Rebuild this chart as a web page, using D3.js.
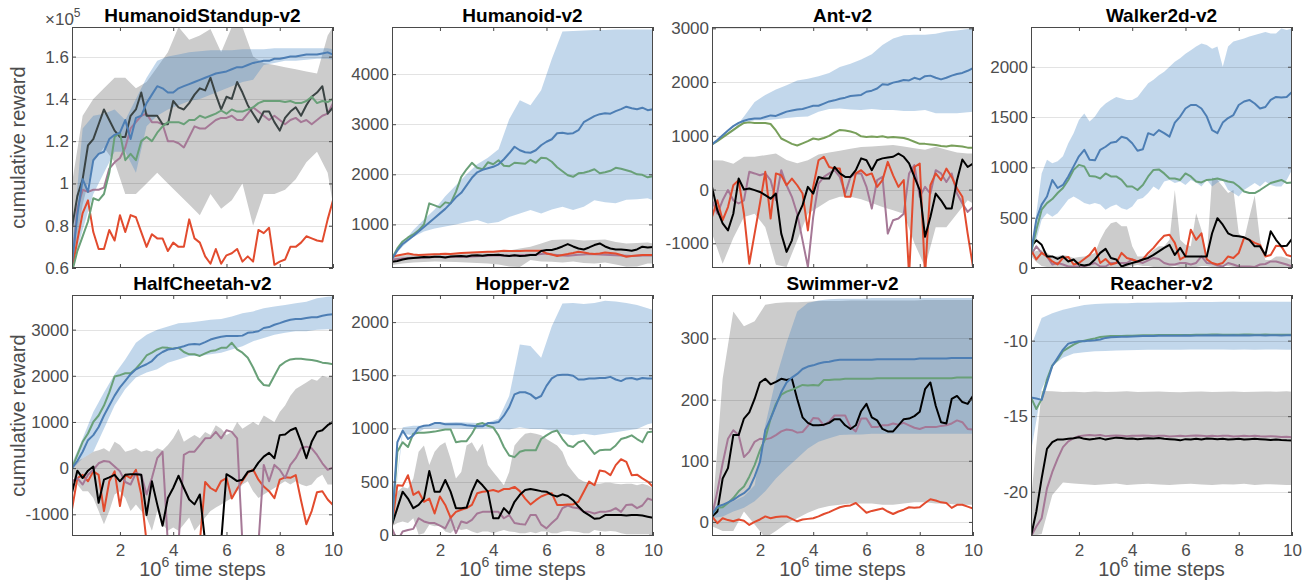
<!DOCTYPE html>
<html>
<head>
<meta charset="utf-8">
<script src="https://cdn.jsdelivr.net/npm/d3@7"></script>
<style>
  body { margin: 0; background: #fff; }
  svg { font-family: "Liberation Sans", Arial, Helvetica, sans-serif; }
</style>
</head>
<body>
<svg id="chart" width="1310" height="582"></svg>
<script>
// time steps (x 10^6) for the lines, and a coarser grid used by some bands
const X50 = [0.2,0.4,0.6,0.8,1.0,1.2,1.4,1.6,1.8,2.0,2.2,2.4,2.6,2.8,3.0,3.2,3.4,3.6,3.8,4.0,
  4.2,4.4,4.6,4.8,5.0,5.2,5.4,5.6,5.8,6.0,6.2,6.4,6.6,6.8,7.0,7.2,7.4,7.6,7.8,8.0,
  8.2,8.4,8.6,8.8,9.0,9.2,9.4,9.6,9.8,10];
const XB = [0.2,0.6,1.0,1.4,1.8,2.2,2.6,3.0,3.4,3.8,4.2,4.6,5.0,5.4,5.8,6.2,6.6,7.0,7.4,7.8,8.2,8.6,9.0,9.4,9.8,10];

const xTicks = [2, 4, 6, 8, 10];

// HumanoidStandup-v2 (values x 10^5)
const hsBlue = [0.62,0.85,1.02,0.96,1.11,1.14,1.15,1.21,1.23,1.24,1.30,1.21,1.31,1.32,1.38,1.42,1.46,1.45,1.43,1.43,1.45,1.46,1.47,1.48,1.49,1.50,1.51,1.52,1.525,1.53,1.54,1.55,1.55,1.56,1.57,1.575,1.58,1.58,1.59,1.59,1.595,1.60,1.60,1.605,1.61,1.61,1.61,1.615,1.62,1.61];
const hsGreen = [0.58,0.68,0.75,0.82,0.93,0.92,0.95,1.05,1.22,1.24,1.11,1.14,1.11,1.20,1.22,1.20,1.24,1.27,1.29,1.29,1.29,1.28,1.30,1.30,1.32,1.31,1.32,1.33,1.345,1.33,1.35,1.34,1.34,1.35,1.36,1.38,1.39,1.39,1.39,1.39,1.385,1.39,1.38,1.38,1.39,1.41,1.38,1.39,1.385,1.40];
const hsPurple = [0.60,0.88,0.97,0.96,0.97,0.97,0.98,1.07,1.10,1.12,1.17,1.26,1.29,1.32,1.33,1.29,1.29,1.28,1.20,1.20,1.19,1.17,1.22,1.27,1.26,1.26,1.28,1.30,1.31,1.31,1.32,1.30,1.30,1.33,1.36,1.34,1.32,1.30,1.32,1.30,1.28,1.30,1.31,1.29,1.30,1.28,1.30,1.32,1.33,1.38];
const hsRed = [0.59,0.73,0.86,0.92,0.77,0.69,0.69,0.78,0.73,0.85,0.77,0.85,0.84,0.77,0.70,0.76,0.74,0.74,0.68,0.72,0.70,0.70,0.83,0.74,0.72,0.655,0.62,0.69,0.62,0.66,0.67,0.69,0.63,0.655,0.63,0.78,0.765,0.79,0.615,0.63,0.64,0.70,0.70,0.72,0.75,0.74,0.73,0.725,0.83,0.92];
const hsBlack = [0.79,0.94,1.02,1.18,1.21,1.28,1.35,1.30,1.25,1.22,1.22,1.32,1.35,1.43,1.32,1.32,1.32,1.28,1.28,1.39,1.36,1.35,1.38,1.42,1.45,1.44,1.50,1.42,1.35,1.41,1.40,1.48,1.43,1.37,1.33,1.29,1.34,1.34,1.29,1.25,1.31,1.34,1.36,1.32,1.37,1.41,1.43,1.46,1.33,1.36];
const hsBlueLo = [0.60,0.78,0.95,1.05,1.15,1.15,1.05,1.27,1.32,1.35,1.37,1.39,1.40,1.42,1.44,1.46,1.48,1.49,1.56,1.57,1.58,1.58,1.585,1.59,1.59,1.585];
const hsBlueHi = [0.70,1.26,1.32,1.33,1.35,1.30,1.40,1.50,1.58,1.60,1.61,1.62,1.625,1.63,1.63,1.63,1.635,1.635,1.635,1.64,1.64,1.64,1.64,1.64,1.64,1.635];
const hsGrayLo = [0.60,0.90,1.10,1.17,1.10,0.95,0.95,1.00,1.05,1.00,0.95,0.90,0.85,0.95,0.88,0.92,1.00,0.80,0.95,0.95,0.97,1.02,1.10,1.15,1.05,0.90];
const hsGrayHi = [1.00,1.32,1.40,1.45,1.50,1.50,1.45,1.48,1.55,1.62,1.74,1.68,1.70,1.73,1.62,1.74,1.74,1.60,1.57,1.56,1.55,1.54,1.53,1.52,1.70,1.74];

// Humanoid-v2
const huBlue = [310,480,610,690,770,860,950,1040,1130,1220,1310,1420,1540,1630,1780,1930,2040,2090,2120,2150,2200,2300,2420,2550,2480,2440,2430,2480,2580,2650,2700,2820,2830,2810,2820,2880,3040,3100,3160,3200,3220,3210,3260,3300,3350,3320,3300,3330,3280,3300];
const huGreen = [320,520,660,740,800,880,1000,1420,1380,1340,1440,1420,1650,1950,2100,2230,2130,2100,2240,2200,2280,2170,2160,2230,2220,2210,2290,2230,2330,2320,2250,2140,2060,1980,1950,2020,2030,2060,2100,2020,2040,2070,2130,2110,2080,2050,2000,1990,1940,1960];
const huPurple = [300,310,320,330,335,330,340,345,350,350,345,350,355,360,355,360,365,370,375,380,385,380,375,380,385,390,395,400,410,420,400,390,380,375,385,395,400,410,405,400,395,390,385,380,375,370,375,380,385,380];
const huRed = [355,380,400,420,400,388,395,400,405,408,415,410,420,430,435,440,445,450,455,455,465,475,470,470,470,472,475,475,475,420,400,368,390,408,430,455,440,420,408,420,440,430,420,390,355,370,380,388,390,388];
const huBlack = [255,270,300,321,330,340,350,345,355,355,340,360,365,368,360,380,385,375,390,388,395,380,370,385,368,375,388,390,470,488,490,520,560,608,560,520,500,540,588,620,560,520,500,500,488,475,500,555,540,550];
const huBlueLo = [320,560,750,860,920,960,1000,1050,1090,1020,1050,1150,1220,1290,1220,1300,1350,1290,1350,1480,1440,1420,1490,1500,1520,1480];
const huBlueHi = [320,620,890,1100,1300,1560,1780,2000,2200,2330,2500,3100,3480,3380,3680,4300,4850,4860,4870,4880,4880,4890,4890,4890,4890,4890];
const huGrayLo = [190,220,240,250,260,255,250,240,230,220,200,160,150,290,260,255,240,260,230,220,240,200,155,160,220,220];
const huGrayHi = [355,380,400,410,420,420,430,440,440,450,460,480,520,555,620,690,700,700,680,690,700,650,620,630,640,620];

// Ant-v2
const antBlue = [840,920,1010,1100,1180,1240,1280,1310,1320,1320,1350,1380,1370,1410,1450,1470,1490,1500,1530,1560,1560,1600,1640,1660,1690,1710,1740,1750,1760,1820,1840,1880,1960,1950,1990,2010,2040,2030,2080,2050,2110,2120,2080,2050,2080,2120,2150,2170,2210,2260];
const antGreen = [840,900,970,1040,1110,1180,1240,1250,1240,1240,1240,1220,1100,950,900,850,820,860,900,950,930,960,1000,1060,1110,1100,1080,1050,990,980,985,980,990,970,980,970,960,930,890,850,850,840,830,810,800,820,810,800,780,780];
const antPurple = [-200,-450,-200,-10,-200,-260,-200,330,300,265,300,175,-200,360,80,-135,-450,-945,-1440,-510,110,235,300,360,235,-75,235,300,300,50,-355,175,235,-820,-570,-540,-450,300,455,-135,50,-75,360,300,140,300,-75,-260,-415,-325];
const antRed = [-510,-200,-570,-325,80,175,-450,-1380,-820,-260,330,-540,300,265,80,205,80,-75,-760,50,545,610,420,390,390,-135,-135,300,360,265,300,50,175,515,265,50,175,-1600,420,485,-1600,80,300,175,390,235,20,-135,-820,-1440];
const antBlack = [50,-385,-630,-760,-450,205,0,20,-10,-45,-105,-170,-75,-820,-1160,-945,-510,-290,50,-75,235,205,205,420,300,235,235,360,580,545,360,545,580,595,610,670,610,485,235,-10,-880,-510,-75,-200,-355,-355,175,560,420,485];
const antBlueLo = [845,960,1080,1230,1290,1290,1310,1330,1350,1360,1450,1500,1510,1490,1480,1500,1480,1480,1460,1460,1480,1420,1420,1420,1440,1450];
const antBlueHi = [845,960,1110,1360,1630,1760,1860,1940,2030,2060,2110,2170,2280,2340,2420,2520,2690,2810,2870,2880,2880,2900,2940,2960,2990,3000];
const antGrayLo = [-820,-1380,-900,-510,-450,-700,-1400,-1440,-950,-450,-325,-200,-135,-135,-180,-250,-325,-385,-450,-1000,-1440,-700,-700,-450,-200,-260];
const antGrayHi = [545,540,480,610,610,640,670,550,490,545,650,690,720,760,790,800,815,830,800,770,740,795,740,690,670,670];

// Walker2d-v2
const wkBlue = [150,480,630,710,875,795,825,910,1010,1110,1175,1075,1070,1175,1205,1245,1255,1305,1290,1240,1165,1180,1340,1320,1370,1340,1305,1445,1505,1585,1620,1620,1585,1505,1370,1340,1445,1490,1520,1620,1655,1670,1635,1585,1600,1670,1700,1695,1700,1750];
const wkGreen = [150,380,580,645,685,745,795,875,975,1025,1010,915,910,890,940,910,910,875,810,810,775,825,910,975,980,940,890,890,875,940,910,860,850,875,880,890,875,860,850,810,760,745,745,775,810,845,860,875,845,850];
const wkPurple = [130,215,150,115,35,50,35,15,15,15,15,35,50,15,15,50,50,50,50,85,65,50,75,100,90,50,35,35,50,50,35,50,115,50,45,25,15,50,35,15,15,15,10,35,40,65,65,50,35,15];
const wkRed = [180,85,150,115,65,35,100,110,35,50,90,130,200,50,90,35,50,150,100,85,65,85,150,200,265,320,330,250,85,115,380,280,345,85,50,35,50,115,100,150,300,280,250,230,115,130,220,215,130,115];
const wkBlack = [215,275,230,115,115,90,115,65,85,35,25,35,85,150,190,100,85,15,35,50,65,85,100,130,165,200,230,130,200,115,115,115,115,115,345,495,430,345,320,315,305,280,215,215,130,365,280,215,220,290];
const wkBlueLo = [150,280,480,545,510,545,610,680,710,680,645,630,645,630,580,610,630,595,580,610,680,695,745,810,775,860,875,845,860,825,875,850,810,875,810,850,875,775,745,710,775,810,845,810,860,825,810,810,875,975];
const wkBlueHi = [150,545,940,1075,1040,1060,1110,1240,1340,1470,1535,1455,1505,1585,1635,1670,1700,1685,1670,1670,1700,1770,1835,1870,1915,1950,2000,2050,2085,2130,2165,2200,2230,2215,2180,2200,2000,2200,2250,2265,2280,2300,2315,2330,2345,2330,2330,2380,2365,2380];
const wkGrayLo = [120,60,20,10,5,0,0,0,0,0,5,10,10,10,5,0,0,0,10,20,30,20,20,10,5,10,10,20,10,10,5,10,20,20,10,10,20,20,10,10,10,10,20,10,10,5,5,0,0,0];
const wkGrayHi = [150,170,180,150,115,120,130,120,100,110,115,130,150,280,380,445,460,415,415,215,115,115,130,180,215,215,280,775,280,230,215,545,380,120,900,875,810,745,775,345,280,510,720,280,80,80,115,115,100,80];

// HalfCheetah-v2
const hcBlue = [0,155,355,605,715,890,1140,1355,1570,1750,1890,2035,2140,2200,2250,2320,2440,2515,2570,2585,2610,2640,2680,2690,2680,2730,2785,2820,2845,2860,2860,2860,2870,2930,2945,2965,3035,3055,3105,3140,3180,3215,3230,3230,3250,3270,3270,3300,3320,3335];
const hcGreen = [0,285,570,750,1000,1140,1355,1640,1985,2015,2055,2055,2155,2285,2440,2500,2570,2615,2605,2585,2610,2515,2465,2465,2430,2485,2535,2555,2605,2605,2715,2570,2500,2390,2180,1930,1800,1785,2000,2215,2300,2355,2370,2370,2355,2340,2320,2285,2270,2250];
const hcPurple = [-285,-215,-355,-145,-35,105,155,140,35,-70,-300,-355,-105,-145,-570,-215,215,355,-1640,-1640,-1640,285,355,355,500,645,655,785,645,820,785,645,-1640,-1640,-1640,-1640,70,-285,70,-35,-215,70,215,430,465,430,285,105,-35,15];
const hcRed = [-895,-215,-145,-285,-70,-145,-930,-285,-70,-820,-145,-215,-35,-570,-1600,-1600,-1600,-1600,-1600,-1600,-1600,-1600,-1600,-1600,-1600,-300,-430,-500,-280,-215,-660,-450,-280,-100,-30,-250,-400,-500,-650,-250,-200,-210,-150,-700,-1215,-930,-520,-500,-680,-800];
const hcBlack = [-535,-55,-215,-55,35,-750,-250,-200,-145,-285,-145,-130,-130,-145,-1015,-285,-785,-1250,-645,-430,-165,-430,-680,-785,-570,-1600,-1600,-1600,-1600,-130,-200,-280,-250,-80,-50,120,250,330,215,715,730,820,870,570,215,570,785,820,930,1000];
const hcBlueLo = [-35,215,355,855,1355,1715,1965,2070,2140,2285,2355,2430,2430,2465,2500,2570,2640,2750,2820,2890,2930,2965,2965,3000,3010,3015];
const hcBlueHi = [105,640,1215,1640,2035,2355,2715,2890,3000,3070,3140,3155,3180,3215,3230,3285,3355,3395,3465,3500,3535,3570,3605,3680,3710,3715];
const hcGrayLo = [-145,-355,-500,-500,-645,-930,-1215,-930,-570,-500,-645,-930,-785,-930,-1070,-1355,-930,-1215,-1355,-1285,-1355,-1215,-1070,-1355,-1215,-1070,-930,-855,-785,-715,-645,-500,-355,-285,-500,-645,-570,-500,-430,-355,-285,-355,-285,-355,-390,-355,-215,-145,-355,-355];
const hcGrayHi = [70,150,215,285,355,390,430,355,570,500,355,390,430,355,390,355,430,390,500,645,855,570,645,715,645,785,715,930,855,715,785,1000,855,930,1000,930,1140,1070,1000,1215,1355,1570,1715,1785,1855,1930,1890,2000,1965,2000];

// Hopper-v2
const hopBlue = [95,870,980,900,935,1010,1025,1030,1050,1050,1040,1040,1040,1040,1030,1025,1020,1020,1050,1050,1060,1120,1200,1320,1340,1340,1320,1280,1305,1400,1470,1500,1505,1505,1495,1460,1460,1470,1470,1475,1475,1485,1460,1445,1470,1475,1460,1475,1470,1470];
const hopGreen = [95,780,870,825,950,960,960,965,970,980,990,990,870,880,880,950,1040,1050,1025,1010,935,825,745,730,780,795,795,795,900,935,965,980,900,840,825,870,885,825,760,795,800,800,840,900,915,935,900,870,965,970];
const hopPurple = [60,-60,30,45,55,155,125,110,110,85,60,160,15,125,110,140,200,215,215,215,215,155,185,110,100,95,185,185,95,60,110,155,250,275,255,250,215,215,200,215,215,225,250,215,280,285,250,275,340,325];
const hopRed = [95,465,460,560,375,405,310,340,200,360,280,160,215,235,250,280,390,405,410,420,405,430,430,450,410,340,285,325,360,380,390,280,280,285,285,310,405,500,465,605,595,560,655,710,685,560,565,530,500,450];
const hopBlack = [95,250,405,340,250,280,340,600,405,405,515,405,250,250,255,405,515,465,405,155,155,250,200,310,375,420,430,420,410,405,375,360,380,365,325,265,215,185,150,155,185,185,185,185,180,185,185,180,170,160];
const hopBlueLo = [95,950,935,995,1000,1000,1000,995,995,1000,995,990,1010,995,995,980,950,935,950,935,950,965,980,995,1040,1050];
const hopBlueHi = [95,1010,1025,1025,1045,1055,1060,1055,1050,1055,1090,1305,1790,1775,1665,1960,2175,2180,2170,2180,2200,2195,2180,2160,2130,2115];
const hopGrayLo = [80,110,125,110,155,0,15,95,80,85,30,15,60,45,55,30,15,30,30,15,30,45,30,25,15,15,25,15,30,30,15,15,30,35,30,25,15,15,45,35,30,35,30,15,5,5,5,5,5,5];
const hopGrayHi = [95,405,450,435,530,780,840,655,780,840,870,715,530,590,840,870,780,855,655,590,530,465,590,840,900,950,960,950,935,900,870,840,780,655,590,530,500,490,480,480,490,490,480,475,480,480,465,480,465,440];

// Swimmer-v2
const swBlue = [12,25,28,32,36,42,47,55,74,98,150,169,190,212,228,236,242,250,254,256,259,261,262,264,265,265,265,265,265,265,265,266,266,266,266,266,266,266,266,267,267,267,267,267,267,268,268,268,268,268];
const swGreen = [12,23,24,31,39,50,58,74,93,117,136,169,193,208,213,216,220,224,223,224,223,232,232,233,233,234,234,234,234,234,234,235,235,235,235,235,235,235,235,235,235,235,235,235,235,235,236,236,236,236];
const swPurple = [9,50,96,136,150,142,106,115,131,136,135,137,142,148,151,150,146,147,157,170,169,158,164,174,174,174,155,148,169,169,155,155,158,158,161,159,162,158,154,152,155,155,155,157,158,161,166,163,152,151];
const swRed = [9,-2,6,3,1,4,2,-5,0,4,9,6,8,9,9,5,1,4,5,6,9,13,16,20,24,26,27,31,23,15,18,20,22,17,13,17,20,24,23,24,31,37,35,32,31,23,28,28,25,22];
const swBlack = [9,17,71,88,142,142,169,179,201,228,234,225,229,234,232,234,201,171,162,158,158,159,162,168,168,158,152,158,181,193,171,166,152,148,148,158,168,169,173,180,217,228,190,163,161,201,206,196,193,206];
const swBlueLo = [6,9,17,23,34,50,71,88,104,120,131,137,142,143,143,144,144,144,144,144,144,144,144,144,144,144];
const swBlueHi = [23,28,34,42,60,158,234,293,344,358,362,364,365,365,365,366,366,366,366,366,366,366,366,366,366,366];
const swGrayLo = [-7,-15,-15,17,-4,-26,-15,-2,6,15,22,26,28,30,30,30,28,28,30,32,32,30,30,28,28,28];
const swGrayHi = [6,234,344,320,328,355,358,359,359,360,361,361,361,362,362,362,362,362,362,362,363,363,363,363,363,363];

// Reacher-v2
const reBlue = [-13.76,-13.83,-13.92,-12.78,-11.68,-11.14,-10.59,-10.2,-10.11,-10.04,-10.04,-10.0,-9.98,-9.93,-9.82,-9.78,-9.76,-9.75,-9.74,-9.72,-9.71,-9.70,-9.70,-9.69,-9.68,-9.68,-9.67,-9.68,-9.67,-9.66,-9.67,-9.66,-9.66,-9.65,-9.66,-9.65,-9.66,-9.66,-9.65,-9.66,-9.65,-9.66,-9.65,-9.65,-9.66,-9.65,-9.65,-9.66,-9.65,-9.65];
const reGreen = [-13.76,-14.53,-13.87,-12.56,-11.64,-11.25,-10.7,-10.48,-10.26,-10.09,-10.0,-9.93,-9.85,-9.76,-9.72,-9.70,-9.70,-9.69,-9.68,-9.67,-9.66,-9.65,-9.64,-9.64,-9.63,-9.63,-9.62,-9.63,-9.62,-9.62,-9.62,-9.61,-9.61,-9.61,-9.60,-9.60,-9.61,-9.61,-9.61,-9.61,-9.60,-9.60,-9.61,-9.61,-9.60,-9.61,-9.61,-9.61,-9.61,-9.61];
const rePurple = [-22.95,-22.3,-21.75,-19.78,-18.69,-17.81,-17.05,-16.67,-16.46,-16.32,-16.28,-16.24,-16.28,-16.24,-16.32,-16.30,-16.28,-16.30,-16.32,-16.30,-16.30,-16.28,-16.30,-16.32,-16.30,-16.30,-16.35,-16.32,-16.30,-16.32,-16.30,-16.28,-16.30,-16.32,-16.30,-16.32,-16.30,-16.30,-16.35,-16.32,-16.30,-16.32,-16.30,-16.33,-16.35,-16.32,-16.35,-16.38,-16.36,-16.39];
const reBlack = [-22.95,-21.31,-19.12,-17.16,-16.72,-16.54,-16.54,-16.50,-16.46,-16.39,-16.50,-16.54,-16.50,-16.45,-16.55,-16.48,-16.42,-16.45,-16.50,-16.48,-16.52,-16.50,-16.46,-16.48,-16.45,-16.50,-16.52,-16.55,-16.60,-16.52,-16.55,-16.50,-16.55,-16.48,-16.50,-16.52,-16.50,-16.55,-16.52,-16.50,-16.55,-16.52,-16.50,-16.52,-16.55,-16.58,-16.55,-16.58,-16.60,-16.61];
const reBlueLo = [-17.37,-13.22,-11.68,-11.14,-10.85,-10.77,-10.7,-10.68,-10.65,-10.63,-10.62,-10.61,-10.6,-10.6,-10.6,-10.59,-10.59,-10.59,-10.59,-10.6,-10.59,-10.6,-10.59,-10.59,-10.6,-10.6];
const reBlueHi = [-10.37,-8.51,-8.18,-7.96,-7.79,-7.64,-7.57,-7.55,-7.53,-7.52,-7.5,-7.49,-7.48,-7.47,-7.46,-7.45,-7.44,-7.44,-7.43,-7.43,-7.43,-7.42,-7.42,-7.42,-7.42,-7.42];
const reGrayLo = [-22.95,-22.8,-20.22,-19.39,-19.45,-19.5,-19.55,-19.5,-19.45,-19.55,-19.5,-19.48,-19.52,-19.55,-19.5,-19.48,-19.52,-19.55,-19.5,-19.52,-19.48,-19.55,-19.5,-19.52,-19.55,-19.56];
const reGrayHi = [-20.5,-13.33,-13.35,-13.4,-13.38,-13.42,-13.36,-13.4,-13.38,-13.35,-13.4,-13.38,-13.36,-13.4,-13.42,-13.38,-13.36,-13.4,-13.38,-13.36,-13.4,-13.38,-13.36,-13.38,-13.35,-13.39];

const BLUE = '#4d7eb4', GREEN = '#69a078', PURPLE = '#a57896', RED = '#e24b2e', BLACK = '#000';
const BAND_BLUE = 'rgb(70,134,194)', BAND_GRAY = '#cccccc';

const panels = [
  { title: 'HumanoidStandup-v2', domain: [0.6, 1.74], ticks: [0.6, 0.8, 1, 1.2, 1.4, 1.6], exp: 5,
    bands: [[hsGrayLo, hsGrayHi], [hsBlueLo, hsBlueHi]],
    lines: [[hsPurple, PURPLE], [hsRed, RED], [hsBlack, '#3a4343'], [hsGreen, GREEN], [hsBlue, BLUE]] },
  { title: 'Humanoid-v2', domain: [130, 4940], ticks: [1000, 2000, 3000, 4000],
    bands: [[huGrayLo, huGrayHi], [huBlueLo, huBlueHi]],
    lines: [[huPurple, PURPLE], [huRed, RED], [huBlack, BLACK], [huGreen, GREEN], [huBlue, BLUE]] },
  { title: 'Ant-v2', domain: [-1460, 3025], ticks: [-1000, 0, 1000, 2000, 3000],
    bands: [[antGrayLo, antGrayHi], [antBlueLo, antBlueHi]],
    lines: [[antPurple, PURPLE], [antRed, RED], [antBlack, BLACK], [antGreen, '#789f5a'], [antBlue, BLUE]] },
  { title: 'Walker2d-v2', domain: [0, 2395], ticks: [0, 500, 1000, 1500, 2000],
    bands: [[wkGrayLo, wkGrayHi], [wkBlueLo, wkBlueHi]],
    lines: [[wkPurple, PURPLE], [wkRed, RED], [wkBlack, BLACK], [wkGreen, GREEN], [wkBlue, BLUE]] },
  { title: 'HalfCheetah-v2', domain: [-1470, 3750], ticks: [-1000, 0, 1000, 2000, 3000],
    bands: [[hcGrayLo, hcGrayHi], [hcBlueLo, hcBlueHi]],
    lines: [[hcRed, RED], [hcPurple, PURPLE], [hcBlack, BLACK], [hcGreen, GREEN], [hcBlue, BLUE]] },
  { title: 'Hopper-v2', domain: [-12, 2255], ticks: [0, 500, 1000, 1500, 2000],
    bands: [[hopGrayLo, hopGrayHi], [hopBlueLo, hopBlueHi]],
    lines: [[hopPurple, PURPLE], [hopRed, RED], [hopBlack, BLACK], [hopGreen, GREEN], [hopBlue, BLUE]] },
  { title: 'Swimmer-v2', domain: [-23, 371], ticks: [0, 100, 200, 300],
    bands: [[swGrayLo, swGrayHi], [swBlueLo, swBlueHi]],
    lines: [[swRed, RED], [swPurple, PURPLE], [swBlack, BLACK], [swGreen, GREEN], [swBlue, BLUE]] },
  { title: 'Reacher-v2', domain: [-22.93, -6.98], ticks: [-20, -15, -10],
    bands: [[reGrayLo, reGrayHi], [reBlueLo, reBlueHi]],
    lines: [[rePurple, PURPLE], [reBlack, BLACK], [reGreen, GREEN], [reBlue, BLUE]] }
];

const W = 261, H = 241;
const colX = [72, 392, 712, 1031];
const rowY = [27, 295];
const TXT = '#4d4d4d', AX = '#4a4a4a';

const svg = d3.select('#chart');
const x = d3.scaleLinear().domain([0.2, 10]).range([0, W]);
const xsFor = arr => arr.length === X50.length ? X50 : XB;

panels.forEach((p, i) => {
  const col = i % 4, row = Math.floor(i / 4);
  const g = svg.append('g').attr('transform', `translate(${colX[col]},${rowY[row]})`);
  const y = d3.scaleLinear().domain(p.domain).range([H, 0]);

  g.append('clipPath').attr('id', 'clip' + i)
    .append('rect').attr('width', W).attr('height', H);
  const plot = g.append('g').attr('clip-path', `url(#clip${i})`);

  // shaded bands: gray first, blue on top (semi transparent)
  p.bands.forEach(([lo, hi], k) => {
    const xs = xsFor(lo);
    const area = d3.area().x((d, j) => x(xs[j])).y0(d => y(d[0])).y1(d => y(d[1]));
    plot.append('path')
      .datum(lo.map((v, j) => [v, hi[j]]))
      .attr('d', area)
      .attr('fill', k === 0 ? BAND_GRAY : BAND_BLUE)
      .attr('fill-opacity', k === 0 ? 1 : 0.33);
  });

  // horizontal grid
  plot.selectAll('line.grid').data(p.ticks).join('line')
    .attr('class', 'grid')
    .attr('x1', 0).attr('x2', W)
    .attr('y1', d => Math.round(y(d)) + 0.5).attr('y2', d => Math.round(y(d)) + 0.5)
    .attr('stroke', 'rgba(0,0,0,0.11)');

  // mean curves
  p.lines.forEach(([vals, color]) => {
    const xs = xsFor(vals);
    plot.append('path')
      .datum(vals)
      .attr('d', d3.line().x((d, j) => x(xs[j])).y(d => y(d)))
      .attr('fill', 'none')
      .attr('stroke', color)
      .attr('stroke-width', 2)
      .attr('stroke-linejoin', 'round');
  });

  // axes, ticks pointing inward
  const fmt = d => String(+d.toFixed(2));
  const styleAxis = a => {
    a.select('.domain').remove();
    a.selectAll('.tick line').attr('stroke', AX);
    a.selectAll('.tick text').attr('fill', TXT).style('font-size', '17px')
      .style('font-family', '"Liberation Sans", Arial, sans-serif');
  };
  g.append('g').call(d3.axisLeft(y).tickValues(p.ticks).tickSizeInner(-4).tickSizeOuter(0)
    .tickPadding(3).tickFormat(fmt)).call(styleAxis);
  g.append('g').attr('transform', `translate(${W},0)`)
    .call(d3.axisRight(y).tickValues(p.ticks).tickSizeInner(-4).tickSizeOuter(0).tickFormat(''))
    .call(styleAxis);
  g.append('g').attr('transform', `translate(0,${H})`)
    .call(d3.axisBottom(x).tickValues(xTicks).tickSizeInner(-4).tickSizeOuter(0)
      .tickPadding(8).tickFormat(row === 1 ? d => d : ''))
    .call(styleAxis);
  g.append('g')
    .call(d3.axisTop(x).tickValues(xTicks).tickSizeInner(-4).tickSizeOuter(0).tickFormat(''))
    .call(styleAxis);

  g.append('rect')
    .attr('x', 0.5).attr('y', 0.5).attr('width', W - 1).attr('height', H - 1)
    .attr('fill', 'none').attr('stroke', AX).attr('stroke-width', 1);

  // title
  g.append('text')
    .attr('x', W / 2).attr('y', -5)
    .attr('text-anchor', 'middle')
    .style('font-size', '19px').style('font-weight', 'bold')
    .attr('fill', '#000')
    .text(p.title);

  // exponent label
  if (p.exp) {
    const t = g.append('text').attr('x', -27).attr('y', -2).attr('fill', TXT).style('font-size', '17px');
    t.append('tspan').text('\u00d710');
    t.append('tspan').attr('dy', -8).style('font-size', '12px').text(p.exp);
  }

  // x label on bottom row
  if (row === 1) {
    const t = g.append('text')
      .attr('x', W / 2).attr('y', H + 40)
      .attr('text-anchor', 'middle').attr('fill', TXT)
      .style('font-size', '20px');
    t.append('tspan').text('10');
    t.append('tspan').attr('dy', -9).style('font-size', '14px').text('6');
    t.append('tspan').attr('dy', 9).text(' time steps');
  }

  // y label on first column
  if (col === 0) {
    g.append('text')
      .attr('transform', `translate(-47,${H / 2}) rotate(-90)`)
      .attr('text-anchor', 'middle').attr('fill', TXT)
      .style('font-size', '20px')
      .text('cumulative reward');
  }
});
</script>
</body>
</html>
